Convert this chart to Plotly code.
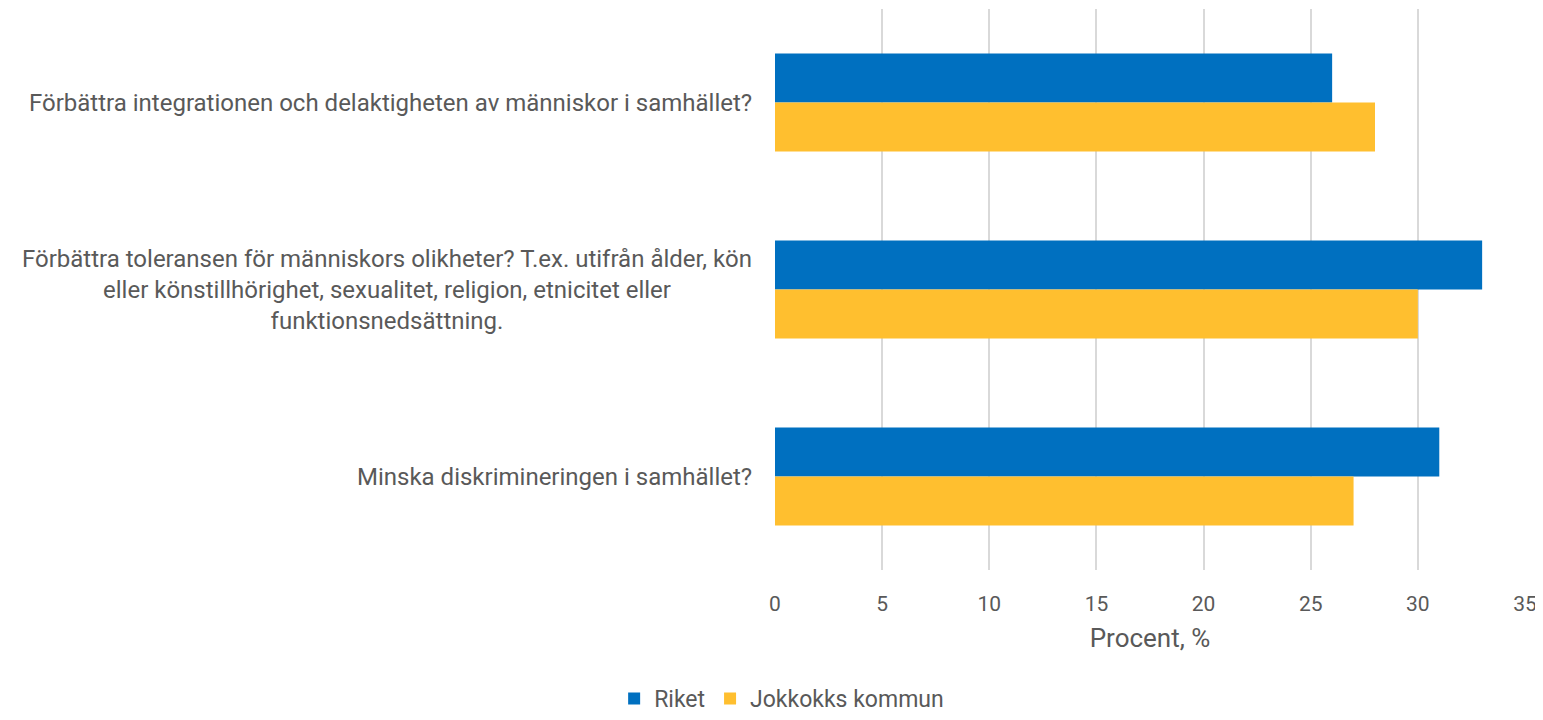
import plotly.graph_objects as go

categories = [
    "Förbättra integrationen och delaktigheten av människor i samhället?",
    "Förbättra toleransen för människors olikheter? T.ex. utifrån ålder, kön<br>eller könstillhörighet, sexualitet, religion, etnicitet eller<br>funktionsnedsättning.",
    "Minska diskrimineringen i samhället?",
]
cat_ids = ["c1", "c2", "c3"]
riket = [26, 33, 31]
jokkmokk = [28, 30, 27]
series_names = ["Riket", "Jokkokks kommun"]
x_ticks = [0, 5, 10, 15, 20, 25, 30, 35]

FONT = "Roboto"
GREY = "#595959"

# the page body has an 8px margin; the figure is sized so it fills the window exactly
W, H = 1535, 712

fig = go.Figure()
fig.add_trace(go.Bar(y=cat_ids, x=riket, orientation="h", name=series_names[0],
                     marker=dict(color="#0070C0", line=dict(width=0))))
fig.add_trace(go.Bar(y=cat_ids, x=jokkmokk, orientation="h", name=series_names[1],
                     marker=dict(color="#FFBF2F", line=dict(width=0))))

for cid, label in zip(cat_ids, categories):
    fig.add_annotation(x=0, xref="paper", y=cid, yref="y", text=label,
                       xanchor="right", yanchor="middle", align="center",
                       xshift=-21, showarrow=False,
                       font=dict(family=FONT, size=24, color=GREY))

fig.update_layout(
    width=W, height=H,
    margin=dict(l=767, r=18, t=1, b=150),
    paper_bgcolor="white", plot_bgcolor="white",
    barmode="group", bargap=0.476, bargroupgap=0,
    font=dict(family=FONT, color=GREY, size=20),
    showlegend=True,
    legend=dict(orientation="h", xref="container", yref="container",
                x=0.504, y=-0.008, xanchor="center", yanchor="bottom",
                font=dict(family=FONT, size=23, color=GREY),
                itemwidth=30, traceorder="normal", tracegroupgap=0,
                bgcolor="rgba(0,0,0,0)"),
    xaxis=dict(range=[0, 35], tickvals=x_ticks, showgrid=True,
               gridcolor="#D9D9D9", gridwidth=1.5, zeroline=False,
               showline=False, ticks="", ticklabelstandoff=19,
               tickfont=dict(family=FONT, size=21, color=GREY),
               title=dict(text="Procent, %", standoff=13,
                          font=dict(family=FONT, size=26, color=GREY))),
    yaxis=dict(autorange="reversed", showticklabels=False, showgrid=False,
               zeroline=False, showline=False, ticks=""),
)

fig.write_html("out.html")
